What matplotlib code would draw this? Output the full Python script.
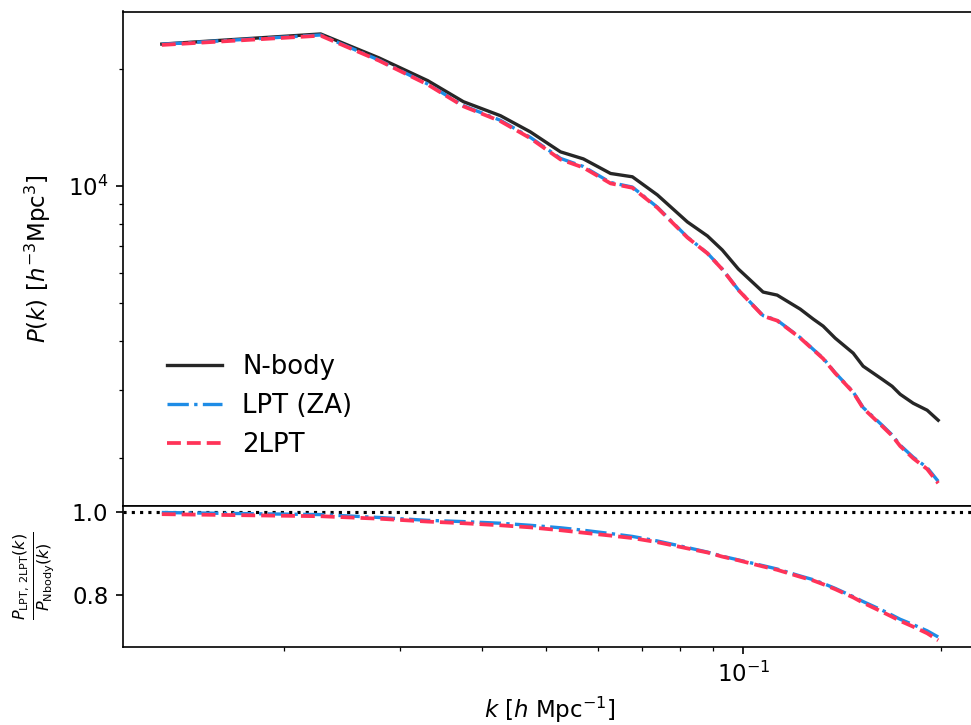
import numpy as np
import matplotlib
matplotlib.use("Agg")
import matplotlib.pyplot as plt

# wavenumbers [h/Mpc]
k = [0.01303, 0.02274, 0.0279, 0.0331, 0.0375, 0.0427, 0.0474, 0.0527, 0.0571,
     0.0628, 0.0678, 0.0740, 0.0822, 0.0882, 0.0929, 0.0983, 0.1072, 0.1126,
     0.1221, 0.1278, 0.1323, 0.1380, 0.1470, 0.1522, 0.1627, 0.1685, 0.1733,
     0.1814, 0.1905, 0.1980]

# N-body power spectrum
p_nbody = [23170, 24600, 21350, 18660, 16480, 15170, 13790, 12250, 11750,
           10780, 10570, 9497, 8095, 7450, 6857, 6125, 5346, 5251,
           4833, 4556, 4371, 4071, 3725, 3449, 3192, 3062, 2921,
           2770, 2658, 2505]

# ratios P_LPT / P_Nbody
ratio_za = [0.999, 0.994, 0.987, 0.980, 0.977, 0.973, 0.968, 0.962, 0.956,
            0.948, 0.941, 0.930, 0.914, 0.903, 0.893, 0.884, 0.870, 0.862,
            0.845, 0.836, 0.827, 0.815, 0.795, 0.783, 0.762, 0.750, 0.740,
            0.727, 0.712, 0.697]
ratio_2lpt = [0.995, 0.990, 0.984, 0.977, 0.973, 0.968, 0.963, 0.956, 0.950,
              0.943, 0.937, 0.927, 0.912, 0.902, 0.892, 0.883, 0.868, 0.860,
              0.843, 0.834, 0.825, 0.813, 0.793, 0.780, 0.758, 0.746, 0.736,
              0.722, 0.706, 0.689]

labels = ["N-body", "LPT (ZA)", "2LPT"]

k_arr = np.array(k)
pn = np.array(p_nbody, dtype=float)
p_za = pn * np.array(ratio_za)
p_2lpt = pn * np.array(ratio_2lpt)

c_nb = "#262626"
c_za = "#1e8ce6"
c_2l = "#ff3358"

W, H = 971, 725
fig = plt.figure(figsize=(W / 150, H / 150), dpi=150)

left = 123 / W
width = 854 / W
top_y, mid_y, bot_y = 11.5, 505.7, 646.7
ax1 = fig.add_axes([left, 1 - mid_y / H, width, (mid_y - top_y) / H])
ax2 = fig.add_axes([left, 1 - bot_y / H, width, (bot_y - mid_y) / H], sharex=ax1)

ax1.plot(k_arr, pn, color=c_nb, lw=1.6, ls="-", label=labels[0])
ax1.plot(k_arr, p_za, color=c_za, lw=1.6, ls="-.", label=labels[1])
ax1.plot(k_arr, p_2lpt, color=c_2l, lw=1.8, ls="--", label=labels[2])
ax1.set_xscale("log")
ax1.set_yscale("log")
ax1.tick_params(axis="x", which="both", bottom=False, labelbottom=False)
ax1.tick_params(axis="y", labelsize=11)
ax1.set_ylabel(r"$P(k)$ $[h^{-3}\mathrm{Mpc}^3]$", fontsize=11)
ax1.yaxis.set_label_coords(-0.082, 0.5)
leg = ax1.legend(frameon=False, fontsize=12.5, loc="center left",
                 bbox_to_anchor=(0.024, 0.2024), handlelength=2.1)

ax2.axhline(1.0, color="k", ls=":", lw=1.5)
ax2.plot(k_arr, ratio_za, color=c_za, lw=1.6, ls="-.")
ax2.plot(k_arr, ratio_2lpt, color=c_2l, lw=1.8, ls="--")
ax2.set_yticks([0.8, 1.0])
ax2.tick_params(axis="both", labelsize=11)
ax2.set_xlabel(r"$k$ $[h$ Mpc$^{-1}]$", fontsize=11)
ax2.set_ylabel(r"$\frac{P_{\rm LPT,\,2LPT}(k)}{P_{\rm Nbody}(k)}$", fontsize=11)
ax2.yaxis.set_label_coords(-0.078, 0.5)

fig.savefig("out.png", dpi=150)
